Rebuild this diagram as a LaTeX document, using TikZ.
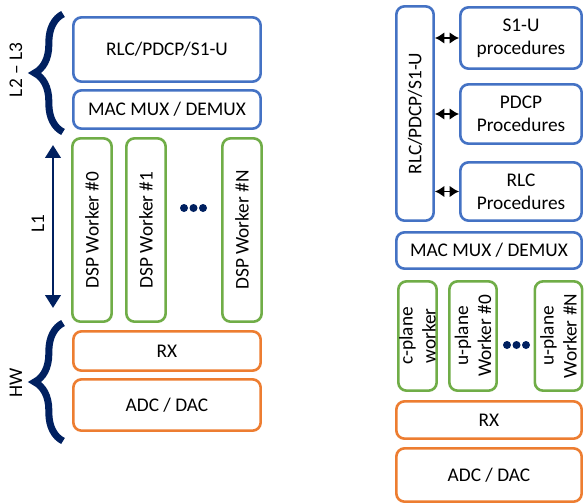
\documentclass[tikz,border=0pt]{standalone}
\usepackage{fontspec}
\setmainfont{Carlito}
\usetikzlibrary{positioning, calc, arrows.meta, decorations.pathreplacing}
\definecolor{boxblue}{RGB}{68,114,196}
\definecolor{boxgreen}{RGB}{112,173,71}
\definecolor{boxorange}{RGB}{237,125,49}
\definecolor{navy}{RGB}{0,32,96}

\begin{document}
\begin{tikzpicture}[x=0.03cm, y=-0.03cm,
        every node/.style={font=\fontsize{16.5}{19.5}\selectfont, inner sep=0pt, align=center},
        blk/.style={draw=#1, line width=2.2pt, rounded corners=7pt, fill=white},
        brc/.style={draw=navy, line width=6pt, decorate, decoration={brace, amplitude=0.85cm}},
        dblarrow/.style={{Latex[length=8pt,width=10pt]}-{Latex[length=8pt,width=10pt]}, line width=1.7pt}]
        \useasboundingbox (0,0) rectangle (584,504);

        % Left stack
        \node[blk=boxblue, minimum width=5.62cm, minimum height=1.93cm] (rlc) at (167,49.5) {RLC/PDCP/S1-U};
        \node[blk=boxblue, minimum width=5.62cm, minimum height=1.15cm] (mac) at (167,109.5) {MAC MUX / DEMUX};
        \foreach \x/\name/\num in {92/dsp0/\#0, 146/dsp1/\#1, 242/dspN/\#N} {
        \node[blk=boxgreen, rotate=90, minimum width=5.5cm, minimum height=1.18cm] (\name) at (\x,230) {DSP Worker \num};
        }
        \foreach \x in {184,193.5,203} \fill[navy] (\x,208) circle (0.12cm);
        \node[blk=boxorange, minimum width=5.62cm, minimum height=1.18cm] (rx) at (167,351) {RX};
        \node[blk=boxorange, minimum width=5.62cm, minimum height=1.54cm] (adc) at (167,405) {ADC / DAC};

        % Layer labels
        \draw[brc] (63,132) -- (63,14);
        \draw[brc] (63,441) -- (63,323);
        \coordinate (lonetop) at (53,145);
        \coordinate (lonebot) at (53,308);
        \draw[navy, line width=2.5pt, {Triangle[width=13pt,length=11pt]}-{Triangle[width=13pt,length=11pt]}] (lonetop) -- (lonebot);
        \node[rotate=90] (ltwo) at (16,70) {L2 – L3};
        \node[rotate=90] (lone) at (38,224) {L1};
        \node[rotate=90] (hw) at (16,383) {HW};

        % Right stack
        \node[blk=boxblue, rotate=90, minimum width=6.43cm, minimum height=1.12cm] (rrlc) at (415,113.5) {RLC/PDCP/S1-U};
        \node[blk=boxblue, minimum width=3.64cm, minimum height=1.84cm] (s1u) at (521,38) {S1-U\\procedures};
        \node[blk=boxblue, minimum width=3.64cm, minimum height=1.78cm] (pdcp) at (521,114) {PDCP\\Procedures};
        \node[blk=boxblue, minimum width=3.64cm, minimum height=1.75cm] (rlcp) at (521,191.5) {RLC\\Procedures};
        \foreach \n in {s1u, pdcp, rlcp} \draw[dblarrow] (rrlc.south |- \n.west) -- (\n.west);
        \node[blk=boxblue, minimum width=5.56cm, minimum height=1.09cm] (rmac) at (489,250.5) {MAC MUX / DEMUX};
        \node[blk=boxgreen, rotate=90, minimum width=3.28cm, minimum height=1.15cm] (cplane) at (417.5,336) {c-plane\\worker};
        \foreach \x/\name/\num in {473/uplane0/\#0, 558.5/uplaneN/\#N} {
        \node[blk=boxgreen, rotate=90, minimum width=3.28cm, minimum height=1.42cm] (\name) at (\x,336) {u-plane\\Worker \num};
        }
        \foreach \x in {507,516.5,526} \fill[navy] (\x,345) circle (0.12cm);
        \node[blk=boxorange, minimum width=5.56cm, minimum height=1.12cm] (rrx) at (489,420) {RX};
        \node[blk=boxorange, minimum width=5.56cm, minimum height=1.6cm] (radc) at (489,475) {ADC / DAC};
\end{tikzpicture}
\end{document}
